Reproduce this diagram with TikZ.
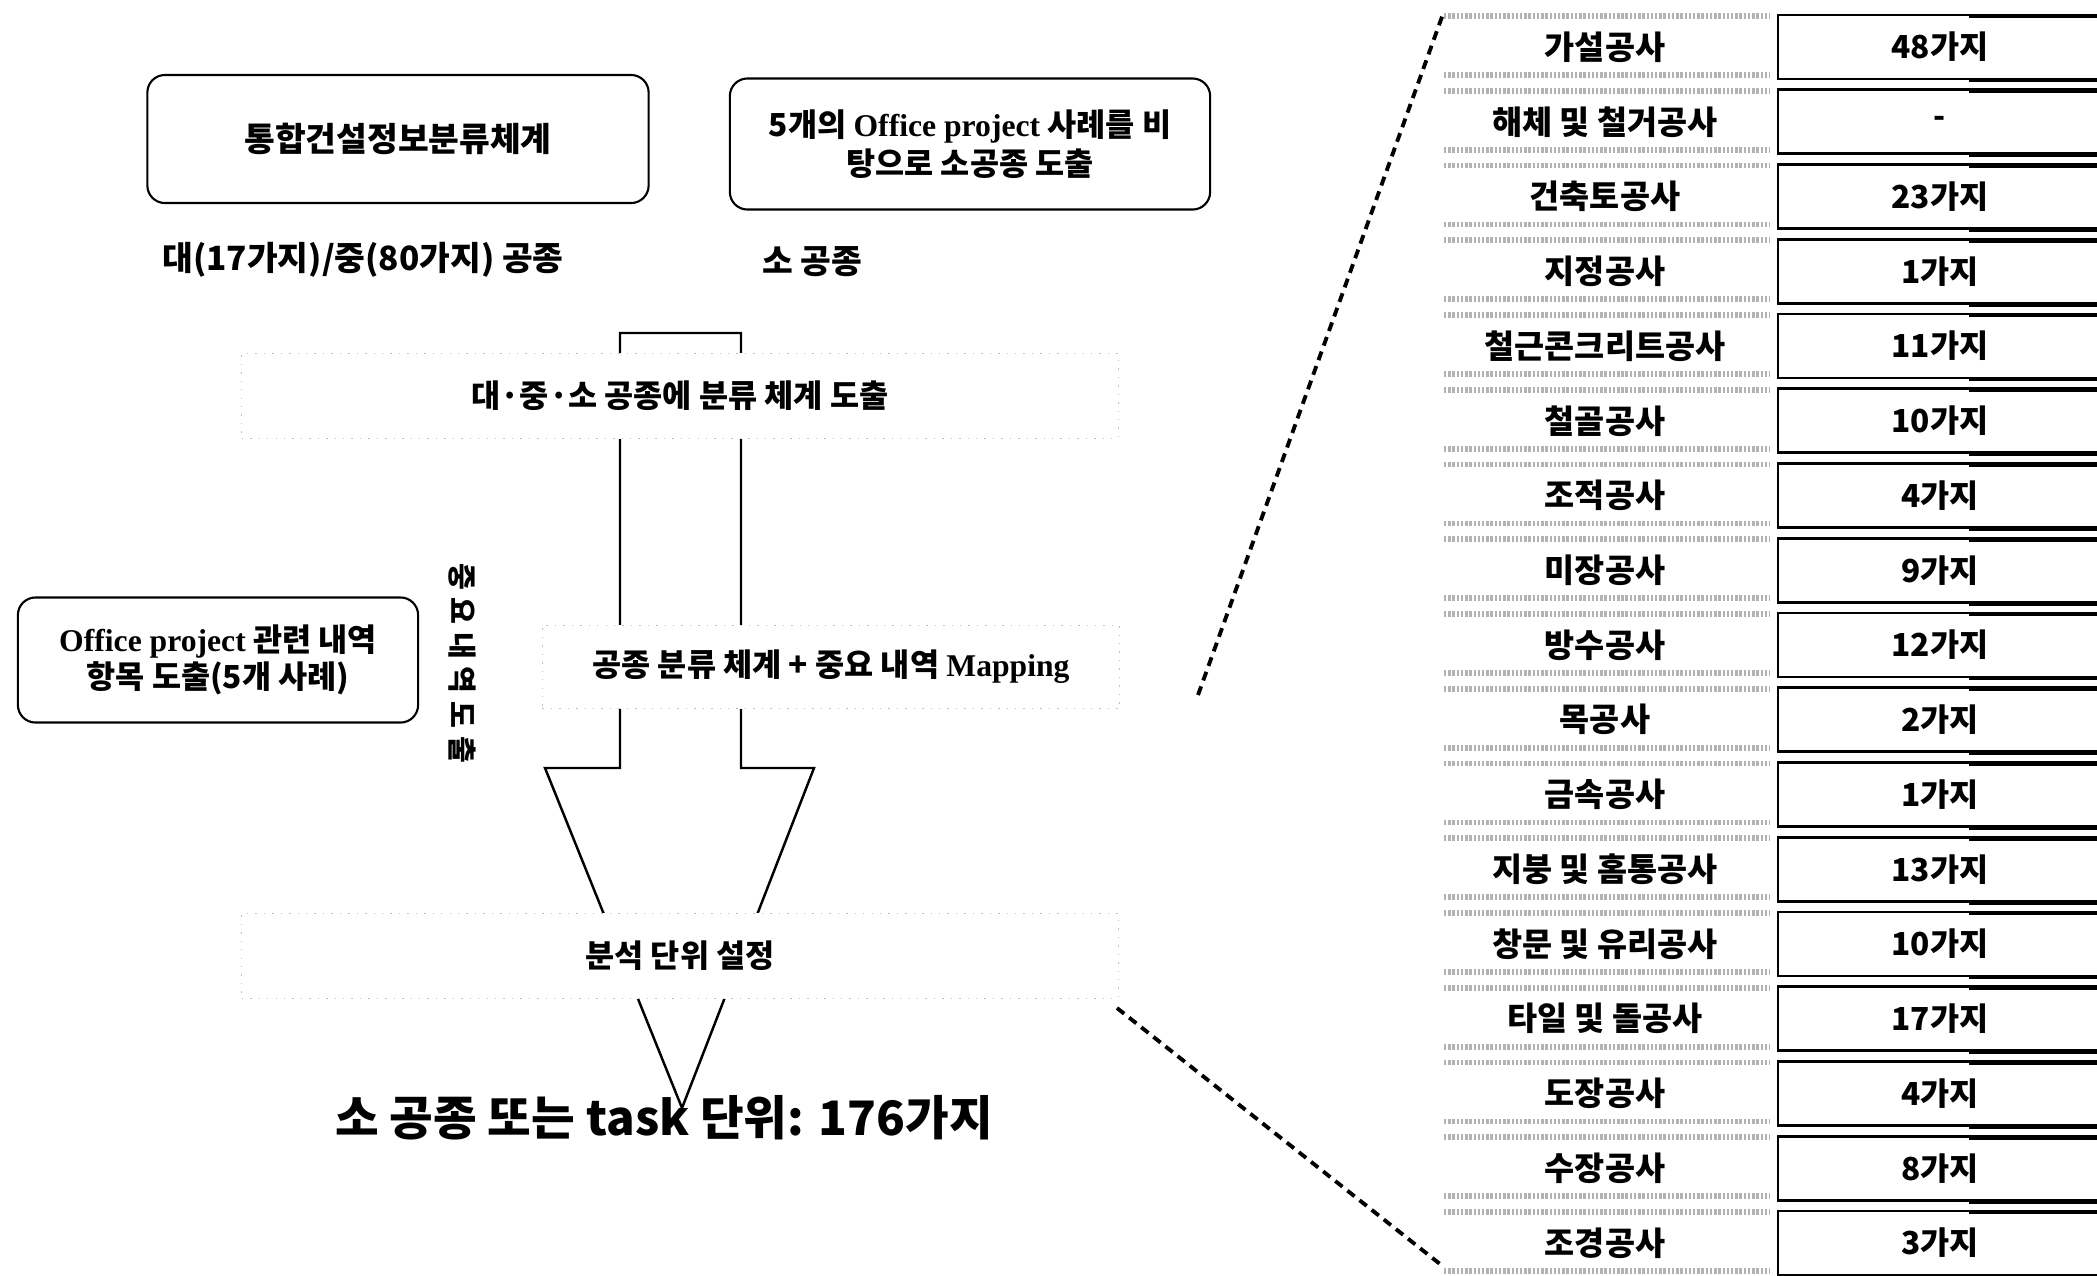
\documentclass[tikz,border=0pt]{standalone}
\usepackage{fontspec}
\setmainfont{Noto Sans CJK KR}
\newfontfamily\lat{Liberation Serif}
\begin{document}
\begin{tikzpicture}[x=0.01cm,y=-0.01cm,
  rbox/.style={draw, line width=0.6pt, rounded corners=5pt, align=center, inner sep=0pt, fill=white,
    font=\fontsize{9}{11}\selectfont\bfseries},
  fbox/.style={draw=gray!50, dotted, line width=0.4pt, fill=white, inner sep=0pt,
    font=\fontsize{9}{10.5}\selectfont\bfseries},
  plain/.style={inner sep=0pt, font=\fontsize{9.5}{11}\selectfont\bfseries},
  lbl/.style={inner sep=0pt, font=\fontsize{9.3}{11}\selectfont\bfseries},
  valbox/.style={draw, line width=0.8pt, inner sep=0pt, minimum width=3.24cm, minimum height=0.64cm,
    font=\fontsize{9}{11}\selectfont\bfseries},
  band/.style={draw=gray!60, line width=1.6pt, dash pattern=on 0.7pt off 0.5pt},
  callout/.style={line width=1.1pt, dash pattern=on 2.6pt off 1.8pt},
  blockarrow/.style={draw, line width=0.7pt, fill=white},
  shade/.style={line width=0.8pt}
]
\useasboundingbox (0,0) rectangle (2097,1275);

% block arrow (behind the boxes)
\coordinate (aTL) at (620,333);
\coordinate (aTR) at (741,333);
\coordinate (aTip) at (682,1108);
\draw[blockarrow] (aTL) -- (aTR) -- (741,768) -- (814,768) -- (aTip) -- (545,768) -- (620,768) -- cycle;

% top boxes
\node[rbox, minimum width=5.01cm, minimum height=1.28cm, font=\fontsize{9.5}{11}\selectfont\bfseries] (b1) at (398,139) {통합건설정보분류체계};
\node[rbox, minimum width=4.80cm, minimum height=1.31cm] (b2) at (970,144)
  {5개의 {\lat Office project} 사례를 비\\탕으로 소공종 도출};
\node[plain] (t1) at (363,260) {대(17가지)/중(80가지) 공종};
\node[plain] (t2) at (812,262) {소 공종};

% stage boxes
\node[fbox, minimum width=8.76cm, minimum height=0.85cm] (b3) at (680,396) {대·중·소 공종에 분류 체계 도출};
\node[fbox, minimum width=5.77cm, minimum height=0.83cm] (b4) at (831,667) {공종 분류 체계 + 중요 내역 {\lat Mapping}};
\node[fbox, minimum width=8.76cm, minimum height=0.85cm] (b5) at (680,956) {분석 단위 설정};

% left box and vertical label
\node[rbox, minimum width=4.00cm, minimum height=1.25cm, font=\fontsize{9}{10.5}\selectfont\bfseries] (b6) at (218,660)
  {{\lat Office project} 관련 내역\\항목 도출(5개 사례)};
\node[inner sep=0pt, rotate=-90, font=\fontsize{8.3}{9}\selectfont\bfseries] (vt) at (462,663)
  {중\hspace{2.2pt}요\hspace{2.2pt}내\hspace{2.2pt}역\hspace{2.2pt}도\hspace{2.2pt}출};

% result
\node[inner sep=0pt, font=\fontsize{13.5}{15}\selectfont\bfseries] (res) at (664,1118) {소 공종 또는 task 단위: 176가지};

% table
\foreach \i/\lab/\val in {0/가설공사/48가지, 1/해체 및 철거공사/-, 2/건축토공사/23가지, 3/지정공사/1가지,
  4/철근콘크리트공사/11가지, 5/철골공사/10가지, 6/조적공사/4가지, 7/미장공사/9가지, 8/방수공사/12가지,
  9/목공사/2가지, 10/금속공사/1가지, 11/지붕 및 홈통공사/13가지, 12/창문 및 유리공사/10가지,
  13/타일 및 돌공사/17가지, 14/도장공사/4가지, 15/수장공사/8가지, 16/조경공사/3가지}{
  \pgfmathsetmacro\yy{47+74.75*\i}
  \draw[band] (1444,{\yy-31}) -- (1769,{\yy-31});
  \draw[band] (1444,{\yy+28}) -- (1769,{\yy+28});
  \node[lbl] (L\i) at (1605,\yy) {\lab};
  \node[valbox] (V\i) at (1940,\yy) {\val};
  \draw[shade] (1969,{\yy+34}) -- (2100,{\yy+34});
  \draw[shade] (1969,{\yy-30}) -- (2100,{\yy-30});
}

% callout lines
\coordinate (c1) at (1198,695);
\coordinate (c2) at (1117,1008);
\coordinate (tTop) at (1443,14);
\coordinate (tBot) at (1440,1264);
\draw[callout] (c1) -- (tTop);
\draw[callout] (c2) -- (tBot);
\end{tikzpicture}
\end{document}
